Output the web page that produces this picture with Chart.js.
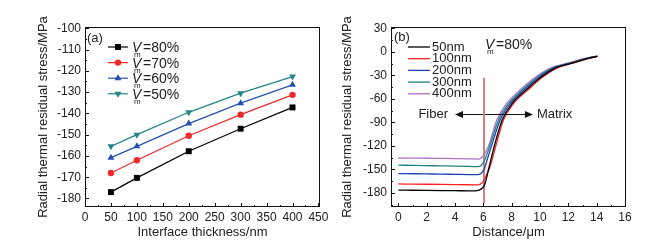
<!DOCTYPE html>
<html>
<head>
<meta charset="utf-8">
<script src="https://cdn.jsdelivr.net/npm/chart.js@4/dist/chart.umd.min.js"></script>
<style>
    body { margin: 0; background: #fff; }
    #wrap { position: relative; width: 667px; height: 247px; }
    canvas { position: absolute; top: 0; }
    #chartA { left: 0; }
    #chartB { left: 333px; }
</style>
</head>
<body>
<div id="wrap">
    <canvas id="chartA" width="333" height="247"></canvas>
    <canvas id="chartB" width="334" height="247"></canvas>
</div>
<script>
// ---- (a) stress vs interface thickness ----
const thickness = [50, 100, 200, 300, 400];
const vm80 = [-177.0, -170.3, -157.8, -147.2, -137.2];
const vm70 = [-168.0, -162.0, -150.5, -140.6, -131.3];
const vm60 = [-160.8, -155.5, -144.8, -135.2, -126.6];
const vm50 = [-155.5, -150.0, -139.5, -130.5, -122.7];
const labelsA = ['80%', '70%', '60%', '50%'];

// ---- (b) stress vs distance, Vm=80% ----
const nm50X = [0, 1, 2, 3, 4, 5, 5.4, 5.95, 6.1, 6.42, 6.8, 7.33, 8.05, 9.03, 9.95, 11.05, 12.25, 13.4, 14.05];
const nm50Y = [-176.4, -176.6, -176.8, -177.0, -177.2, -177.4, -177.5, -173.5, -169, -146, -118.5, -87, -65.5, -48.5, -34, -21, -14.5, -8.3, -5.8];
const nm100X = [0, 1, 2, 3, 4, 5, 5.5, 6.0, 6.12, 6.48, 6.9, 7.42, 8.15, 9.15, 10.05, 11.15, 12.3, 13.45, 14.05];
const nm100Y = [-168.6, -168.8, -169.0, -169.2, -169.4, -169.6, -169.8, -165.5, -161, -146, -118.5, -87, -65.5, -48.5, -34, -21, -14.5, -8.3, -5.8];
const nm200X = [0, 1, 2, 3, 4, 5, 5.6, 6.05, 6.3, 6.6, 7.19, 7.92, 8.88, 9.82, 10.93, 12.15, 13.33, 14.05];
const nm200Y = [-155.4, -155.6, -155.8, -156.0, -156.3, -156.6, -156.8, -150, -136, -118.5, -87, -65.5, -48.5, -34, -21, -14.5, -8.3, -5.7];
const nm300X = [0, 1, 2, 3, 4, 5, 5.65, 6.05, 6.48, 7.07, 7.8, 8.75, 9.7, 10.82, 12.05, 13.27, 14.05];
const nm300Y = [-144.6, -144.9, -145.2, -145.5, -145.8, -146.2, -146.6, -140, -118.5, -87, -65.5, -48.5, -34, -21, -14.5, -8.3, -5.6];
const nm400X = [0, 1, 2, 3, 4, 5, 5.7, 6.1, 6.4, 6.95, 7.66, 8.6, 9.55, 10.7, 11.95, 13.2, 14.05];
const nm400Y = [-135.5, -135.6, -135.8, -136.0, -136.2, -136.5, -136.8, -130, -118.5, -87, -65.5, -48.5, -34, -21, -14.5, -8.3, -5.5];
const labelsB = ['50nm', '100nm', '200nm', '300nm', '400nm'];

// interface line and arrow annotation (data units)
const interfaceX = [6.05, 6.05];
const interfaceY = [-33, -193];
const arrowY = -80;
const arrowLeftTip = 4.0;
const arrowRightTip = 9.5;

const textColor = '#222';
const fontFam = '"Liberation Sans", Arial, sans-serif';

function pts(xs, ys) {
    return xs.map((x, i) => ({ x: x, y: ys[i] }));
}

// box frame + inward major/minor ticks + axis titles, Origin style
const frameTicks = {
    id: 'frameTicks',
    afterDraw(chart, args, opts) {
        const { ctx, chartArea: a, scales } = chart;
        ctx.save();
        ctx.strokeStyle = '#111';
        ctx.lineWidth = 1;
        ctx.strokeRect(a.left + 0.5, a.top + 0.5, a.right - a.left - 1, a.bottom - a.top - 1);

        ['x', 'y'].forEach(id => {
            const s = scales[id];
            const vals = s.ticks.map(t => t.value);
            const step = vals[1] - vals[0];
            const minor = [];
            for (let v = vals[0] - step / 2; v <= s.max; v += step) {
                if (v >= s.min) minor.push(v);
            }
            const draw = (v, len) => {
                const p = Math.round(s.getPixelForValue(v)) + 0.5;
                ctx.beginPath();
                if (id === 'x') {
                    ctx.moveTo(p, a.bottom);
                    ctx.lineTo(p, a.bottom - len);
                } else {
                    ctx.moveTo(a.left, p);
                    ctx.lineTo(a.left + len, p);
                }
                ctx.stroke();
            };
            vals.forEach(v => draw(v, 4));
            minor.forEach(v => draw(v, 2));
        });

        ctx.fillStyle = textColor;
        ctx.font = '13px ' + fontFam;
        ctx.textAlign = 'center';
        ctx.textBaseline = 'middle';
        ctx.fillText(opts.xTitle, (a.left + a.right) / 2, 232);
        ctx.translate(opts.yTitleX, (a.top + a.bottom) / 2);
        ctx.rotate(-Math.PI / 2);
        ctx.fillText(opts.yTitle, 0, 0);
        ctx.restore();
    }
};

function vmText(ctx, x, y, rest, size) {
    ctx.textBaseline = 'alphabetic';
    ctx.textAlign = 'left';
    ctx.font = 'italic ' + size + 'px ' + fontFam;
    ctx.fillText('V', x, y + 5);
    ctx.font = Math.round(size * 0.6) + 'px ' + fontFam;
    ctx.fillText('m', x + 2, y + 10);
    ctx.font = size + 'px ' + fontFam;
    ctx.fillText(rest, x + 11, y + 5);
}

const legendA = {
    id: 'legendA',
    afterDraw(chart) {
        const { ctx, chartArea: a } = chart;
        ctx.save();
        ctx.fillStyle = textColor;
        ctx.font = '13px ' + fontFam;
        ctx.textBaseline = 'middle';
        ctx.fillText('(a)', a.left + 2, a.top + 11);
        chart.data.datasets.forEach((ds, i) => {
            const y = a.top + 20 + i * 15.6;
            ctx.strokeStyle = ds.borderColor;
            ctx.lineWidth = 1.2;
            ctx.beginPath();
            ctx.moveTo(a.left + 23, y);
            ctx.lineTo(a.left + 43, y);
            ctx.stroke();
            ctx.fillStyle = ds.backgroundColor;
            Chart.helpers.drawPoint(ctx, {
                pointStyle: ds.pointStyle, radius: ds.pointRadius,
                rotation: ds.pointRotation || 0, borderWidth: 0
            }, a.left + 33, y);
            ctx.fillStyle = textColor;
            vmText(ctx, a.left + 47, y, '=' + labelsA[i], 14);
        });
        ctx.restore();
    }
};

const legendB = {
    id: 'legendB',
    afterDraw(chart) {
        const { ctx, chartArea: a, scales } = chart;
        ctx.save();
        ctx.fillStyle = textColor;
        ctx.font = '13px ' + fontFam;
        ctx.textBaseline = 'middle';
        ctx.textAlign = 'left';
        ctx.fillText('(b)', a.left + 3, a.top + 10);
        chart.data.datasets.slice(0, 5).forEach((ds, i) => {
            const y = a.top + 20 + i * 11.7;
            ctx.strokeStyle = ds.borderColor;
            ctx.lineWidth = 1.3;
            ctx.beginPath();
            ctx.moveTo(a.left + 17, y);
            ctx.lineTo(a.left + 39, y);
            ctx.stroke();
            ctx.fillStyle = textColor;
            ctx.font = '13px ' + fontFam;
            ctx.textBaseline = 'middle';
            ctx.fillText(labelsB[i], a.left + 41, y);
        });
        vmText(ctx, a.left + 94, a.top + 17, '=80%', 14);

        // Fiber <-- | --> Matrix
        const xs = scales.x, ys = scales.y;
        const yA = ys.getPixelForValue(arrowY);
        const xm = xs.getPixelForValue(interfaceX[0]);
        const xl = xs.getPixelForValue(arrowLeftTip);
        const xr = xs.getPixelForValue(arrowRightTip);
        ctx.strokeStyle = '#111';
        ctx.fillStyle = '#111';
        ctx.lineWidth = 1;
        ctx.beginPath();
        ctx.moveTo(xm - 1, yA); ctx.lineTo(xl + 6, yA);
        ctx.moveTo(xm + 1, yA); ctx.lineTo(xr - 6, yA);
        ctx.stroke();
        ctx.beginPath();
        ctx.moveTo(xl, yA); ctx.lineTo(xl + 8, yA - 3.5); ctx.lineTo(xl + 8, yA + 3.5); ctx.closePath();
        ctx.moveTo(xr, yA); ctx.lineTo(xr - 8, yA - 3.5); ctx.lineTo(xr - 8, yA + 3.5); ctx.closePath();
        ctx.fill();
        ctx.fillStyle = textColor;
        ctx.font = '13px ' + fontFam;
        ctx.textBaseline = 'middle';
        ctx.textAlign = 'right';
        ctx.fillText('Fiber', xl - 7, yA);
        ctx.textAlign = 'left';
        ctx.fillText('Matrix', xr + 4, yA);
        ctx.restore();
    }
};

function axis(min, max, step, pos, size) {
    const o = {
        type: 'linear',
        min: min,
        max: max,
        grid: { display: false, drawTicks: false },
        border: { display: false },
        ticks: {
            padding: pos === 'x' ? 3 : 4,
            color: textColor,
            font: { family: fontFam, size: 12 }
        },
        afterBuildTicks: s => {
            const t = [];
            for (let k = Math.ceil(min / step - 1e-9); k * step <= max + 1e-9; k++) {
                t.push({ value: Math.round(k * step * 1e6) / 1e6 });
            }
            s.ticks = t;
        }
    };
    if (pos === 'x') o.afterFit = s => { s.height = size; };
    else o.afterFit = s => { s.width = size; };
    return o;
}

function lineA(data, color, style, radius, rot) {
    return {
        data: pts(thickness, data),
        borderColor: color,
        backgroundColor: color,
        borderWidth: 1.2,
        pointStyle: style,
        pointRadius: radius,
        pointRotation: rot,
        pointBorderWidth: 0,
        tension: 0
    };
}

new Chart(document.getElementById('chartA'), {
    type: 'line',
    data: {
        datasets: [
            lineA(vm80, '#000000', 'rect', 4.2, 0),
            lineA(vm70, '#f02a2a', 'circle', 3.2, 0),
            lineA(vm60, '#2350b0', 'triangle', 4, 0),
            lineA(vm50, '#248585', 'triangle', 4, 180)
        ]
    },
    options: {
        responsive: false,
        animation: false,
        layout: { padding: { top: 27, right: 13, bottom: 0, left: 0 } },
        plugins: {
            legend: { display: false },
            tooltip: { enabled: false },
            frameTicks: { xTitle: 'Interface thickness/nm', yTitle: 'Radial thermal residual stress/MPa', yTitleX: 43 }
        },
        scales: {
            x: axis(0, 453, 50, 'x', 40),
            y: axis(-184, -99.4, 10, 'y', 85)
        }
    },
    plugins: [frameTicks, legendA]
});

function lineB(xs, ys, color) {
    return {
        data: pts(xs, ys),
        borderColor: color,
        backgroundColor: color,
        borderWidth: 1.3,
        pointRadius: 0,
        cubicInterpolationMode: 'monotone',
        order: 1
    };
}

new Chart(document.getElementById('chartB'), {
    type: 'line',
    data: {
        datasets: [
            lineB(nm50X, nm50Y, '#000000'),
            lineB(nm100X, nm100Y, '#ff2020'),
            lineB(nm200X, nm200Y, '#1c44b0'),
            lineB(nm300X, nm300Y, '#1f8080'),
            lineB(nm400X, nm400Y, '#b070c8'),
            {
                data: pts(interfaceX, interfaceY),
                borderColor: 'rgba(195,115,115,0.9)',
                borderWidth: 2,
                pointRadius: 0,
                order: 5
            }
        ]
    },
    options: {
        responsive: false,
        animation: false,
        layout: { padding: { top: 27, right: 41, bottom: 0, left: 0 } },
        plugins: {
            legend: { display: false },
            tooltip: { enabled: false },
            frameTicks: { xTitle: 'Distance/\u03bcm', yTitle: 'Radial thermal residual stress/MPa', yTitleX: 14 }
        },
        scales: {
            x: axis(-0.52, 16.07, 2, 'x', 40),
            y: axis(-198, 31.7, 30, 'y', 58)
        }
    },
    plugins: [frameTicks, legendB]
});
</script>
</body>
</html>
